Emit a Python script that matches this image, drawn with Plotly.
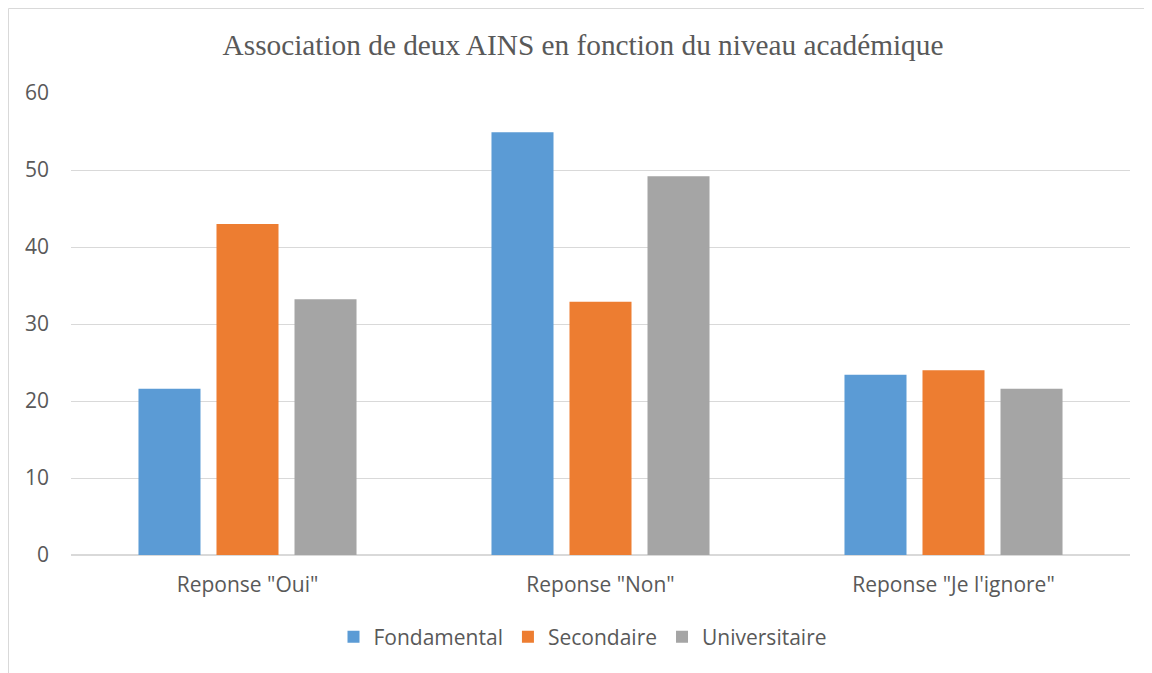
import plotly.graph_objects as go

categories = ['Reponse "Oui"', 'Reponse "Non"', 'Reponse "Je l\'ignore"']
fondamental = [21.6, 54.9, 23.4]
secondaire = [43.0, 32.9, 24.0]
universitaire = [33.2, 49.2, 21.6]
series_names = ["Fondamental", "Secondaire", "Universitaire"]
colors = ["#5B9BD5", "#ED7D31", "#A5A5A5"]
y_ticks = [0, 10, 20, 30, 40, 50, 60]

W, H = 1152, 673
OFF = 8  # page body margin offset
# desired screen positions of plot area
sx0, sx1, sy_top, sy_bot = 71, 1130, 93, 555
ml = sx0 - OFF
mt = sy_top - OFF
mr = W - (sx1 - OFF)
mb = H - (sy_bot - OFF)
pw, ph = W - ml - mr, H - mt - mb

def px_x(p):
    return (p - sx0) / pw

def px_y(p):
    return (sy_bot - p) / ph

fig = go.Figure()
for name, vals, c in zip(series_names, [fondamental, secondaire, universitaire], colors):
    fig.add_trace(go.Bar(name=name, x=categories, y=vals, marker=dict(color=c, line=dict(width=0))))

fig.update_layout(
    width=W, height=H,
    margin=dict(l=ml, r=mr, t=mt, b=mb),
    paper_bgcolor="white", plot_bgcolor="white",
    barmode="group", bargap=0.337, bargroupgap=0.205,
    title=dict(text="Association de deux AINS en fonction du niveau académique",
               font=dict(family="Liberation Serif", size=29.3, color="#595959"),
               x=(583 - OFF) / W, xanchor="center", y=1 - (45 - OFF) / H, yanchor="middle", yref="container"),
    font=dict(family="Open Sans", size=21, color="#595959"),
    xaxis=dict(showgrid=False, showline=False, zeroline=False, ticks="",
               tickfont=dict(size=21, color="#595959"), ticklabelstandoff=15),
    yaxis=dict(range=[0, 60], tickvals=y_ticks, showgrid=True, gridcolor="#D9D9D9", gridwidth=1,
               zeroline=True, zerolinecolor="#D9D9D9", zerolinewidth=1.5, showline=False, ticks="",
               tickfont=dict(size=21, color="#595959"), ticklabelstandoff=21),
    legend=dict(orientation="h", x=px_x(583), xanchor="center", y=px_y(637), yanchor="middle",
                font=dict(size=21, color="#595959"), itemwidth=30, traceorder="normal"),
    showlegend=True,
    shapes=[dict(type="rect", xref="paper", yref="paper",
                 x0=px_x(OFF + 0.5), y0=px_y(720), x1=px_x(1200), y1=px_y(OFF + 0.5),
                 line=dict(color="#D9D9D9", width=1), fillcolor="rgba(0,0,0,0)", layer="below")],
)

fig.write_html("out.html")
